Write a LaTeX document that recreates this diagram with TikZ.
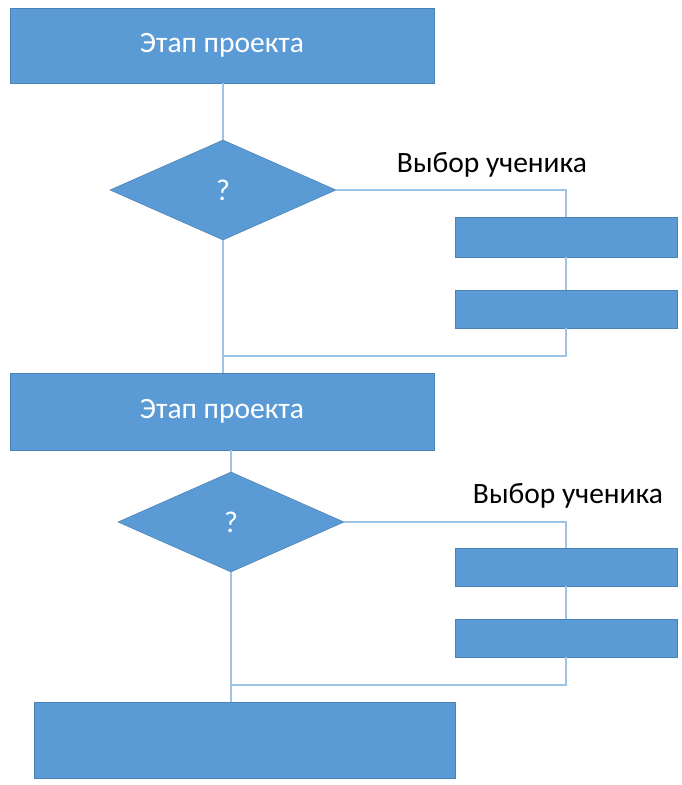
\documentclass[tikz,border=0pt]{standalone}
\usepackage{fontspec}
\setmainfont{Carlito}
\usetikzlibrary{shapes.geometric}

\definecolor{boxblue}{HTML}{5B9BD5}
\definecolor{boxedge}{HTML}{4A82B8}
\definecolor{linkblue}{HTML}{9DC3E6}

\begin{document}
\begin{tikzpicture}[x=1pt, y=-1pt,
	stagebox/.style={rectangle, fill=boxblue, draw=boxedge, line width=0.6pt, text=white, inner sep=0pt, font=\fontsize{29.5}{32}\selectfont},
	askbox/.style={diamond, fill=boxblue, draw=boxedge, line width=0.6pt, text=white, inner sep=0pt, minimum width=226pt, minimum height=100pt, font=\fontsize{30}{32}\selectfont},
	choicebox/.style={rectangle, fill=boxblue, draw=boxedge, line width=0.6pt, inner sep=0pt, minimum width=222pt},
	choicelabel/.style={font=\fontsize{29.5}{32}\selectfont},
	link/.style={draw=linkblue, line width=1.4pt}]
	\useasboundingbox (0,0) rectangle (682,785);

	\node [stagebox, minimum width=424pt, minimum height=75pt] (S1) at (222,45.5) {Этап проекта};
	\node [askbox] (Q1) at (223,190) {?};
	\node [choicelabel] (L1) at (492,165) {Выбор ученика};
	\node [choicebox, minimum height=40pt] (A1) at (566,237) {};
	\node [choicebox, minimum height=38pt] (B1) at (566,309) {};
	\coordinate (J1) at (223,356);

	\node [stagebox, minimum width=424pt, minimum height=77pt] (S2) at (222,411.5) {Этап проекта};
	\node [askbox] (Q2) at (231,522) {?};
	\node [choicelabel] (L2) at (568,496) {Выбор ученика};
	\node [choicebox, minimum height=38pt] (A2) at (566,567) {};
	\node [choicebox, minimum height=38pt] (B2) at (566,638) {};
	\coordinate (J2) at (232,685);

	\node [stagebox, minimum width=421pt, minimum height=76pt] (S3) at (244.5,740) {};

	\draw [link] (S1.south -| Q1.north) -- (Q1.north);
	\draw [link] (Q1.east) -| (A1.north);
	\draw [link] (A1.south) -- (B1.north);
	\draw [link] (B1.south) |- (J1);
	\draw [link] (Q1.south) -- (Q1.south |- S2.north);

	\draw [link] (Q2.north |- S2.south) -- (Q2.north);
	\draw [link] (Q2.east) -| (A2.north);
	\draw [link] (A2.south) -- (B2.north);
	\draw [link] (B2.south) |- (J2);
	\draw [link] (Q2.south) -- (Q2.south |- S3.north);

\end{tikzpicture}
\end{document}
